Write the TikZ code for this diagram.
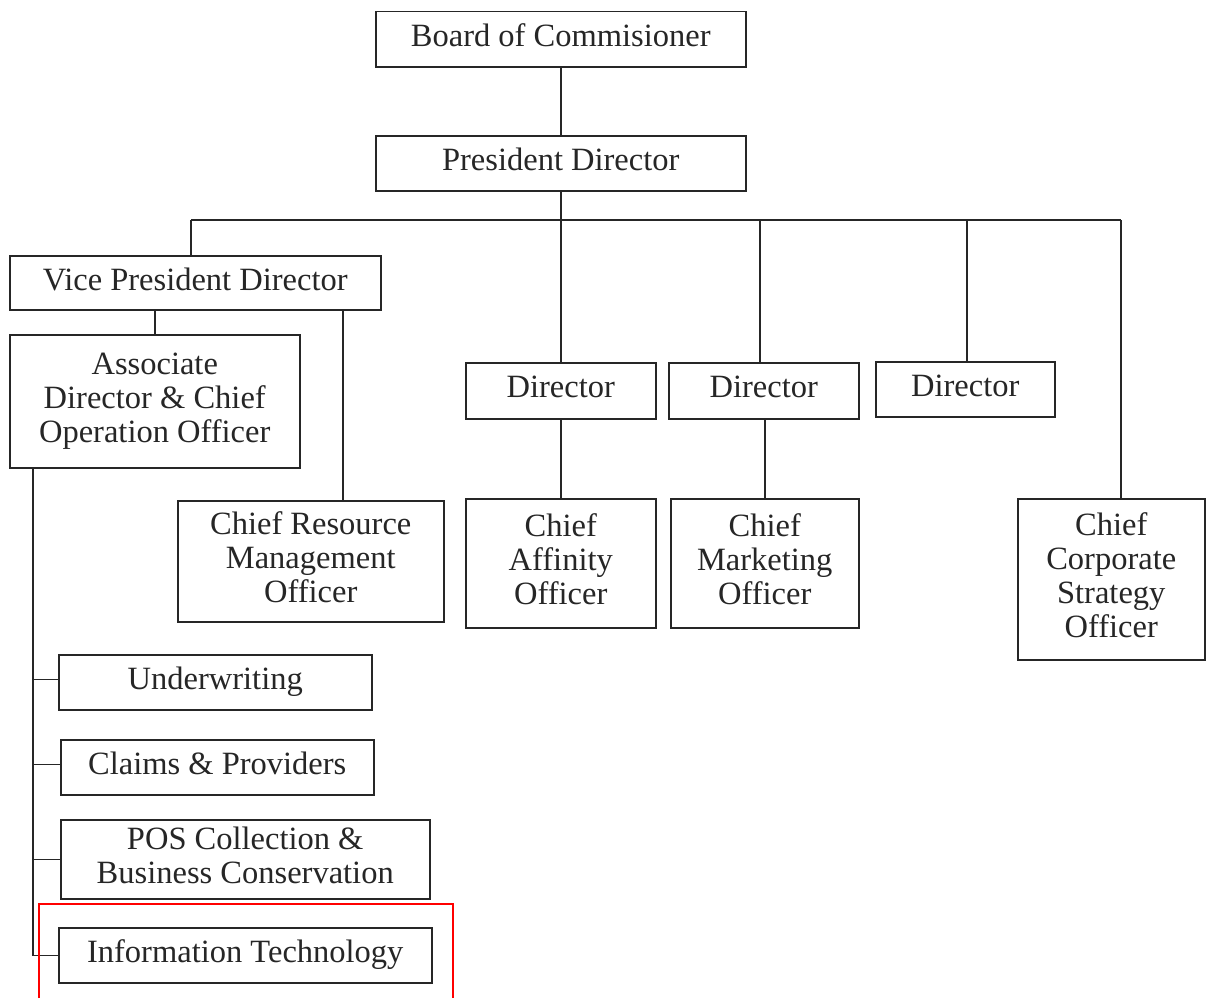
\documentclass[tikz,border=0pt]{standalone}
\usepackage{fontspec}
\setmainfont{Liberation Serif}
\begin{document}
\begin{tikzpicture}[x=1pt,y=-1pt,
  box/.style={draw=black!85, line width=1.5pt, rectangle, inner sep=0pt, align=center,
    anchor=north west, text=black!85, font=\fontsize{32.5}{34}\selectfont,
    execute at end node={\rule[-7.5pt]{0pt}{0pt}}},
  link/.style={draw=black!85, line width=1.5pt},
  hilite/.style={draw=red, line width=2pt}]
\useasboundingbox (0,0) rectangle (1206,998);
\fill[white] (0,0) rectangle (1206,998);

\node[box, minimum width=370pt, minimum height=55pt] (board) at (375,11) {Board of Commisioner};
\node[box, minimum width=370pt, minimum height=55pt] (pres) at (375,135) {President Director};
\node[box, minimum width=371pt, minimum height=54pt] (vp) at (9,255) {Vice President Director};
\node[box, minimum width=290pt, minimum height=133pt] (assoc) at (9,334) {Associate\\Director \& Chief\\Operation Officer};
\node[box, minimum width=266pt, minimum height=121pt] (crmo) at (177,500) {Chief Resource\\Management\\Officer};
\node[box, minimum width=190pt, minimum height=56pt] (d1) at (465,362) {Director};
\node[box, minimum width=190pt, minimum height=56pt] (d2) at (668,362) {Director};
\node[box, minimum width=179pt, minimum height=55pt] (d3) at (875,361) {Director};
\node[box, minimum width=190pt, minimum height=129pt] (caff) at (465,498) {Chief\\Affinity\\Officer};
\node[box, minimum width=188pt, minimum height=129pt] (cmkt) at (670,498) {Chief\\Marketing\\Officer};
\node[box, minimum width=187pt, minimum height=161pt] (ccso) at (1017,498) {Chief\\Corporate\\Strategy\\Officer};
\node[box, minimum width=313pt, minimum height=55pt] (uw) at (58,654) {Underwriting};
\node[box, minimum width=313pt, minimum height=55pt] (cl) at (60,739) {Claims \& Providers};
\node[box, minimum width=369pt, minimum height=79pt] (pos) at (60,819) {POS Collection \&\\Business Conservation};
\node[box, minimum width=373pt, minimum height=55pt] (it) at (58,927) {Information Technology};

\coordinate (busL) at (191,220);
\coordinate (busR) at (1121,220);
\coordinate (vpR) at (343,0);
\coordinate (spine) at (33,0);

\draw[link] (board.south) -- (pres.north);
\draw[link] (busL) -- (busR);
\draw[link] (pres.south) -- (pres.south |- busL);
\draw[link] (busL) -- (busL |- vp.north);
\draw[link] (d1.north) -- (d1.north |- busL);
\draw[link] ([xshift=-4pt]d2.north) -- ([xshift=-4pt]d2.north |- busL);
\draw[link] ([xshift=1.5pt]d3.north) -- ([xshift=1.5pt]d3.north |- busL);
\draw[link] (busR) -- (busR |- ccso.north);
\draw[link] (vp.south -| assoc.north) -- (assoc.north);
\draw[link] (vp.south -| vpR) -- (crmo.north -| vpR);
\draw[link] (d1.south) -- (caff.north);
\draw[link] (d2.south -| cmkt.north) -- (cmkt.north);
\draw[link] (assoc.south -| spine) -- (it.west -| spine) -- (it.west);
\draw[link] ([yshift=3pt]uw.west -| spine) -- ([yshift=3pt]uw.west);
\draw[link] ([yshift=3pt]cl.west -| spine) -- ([yshift=3pt]cl.west);
\draw[link] (pos.west -| spine) -- (pos.west);

\draw[hilite] (39,998) -- (39,904) -- (453,904) -- (453,998);
\end{tikzpicture}
\end{document}
